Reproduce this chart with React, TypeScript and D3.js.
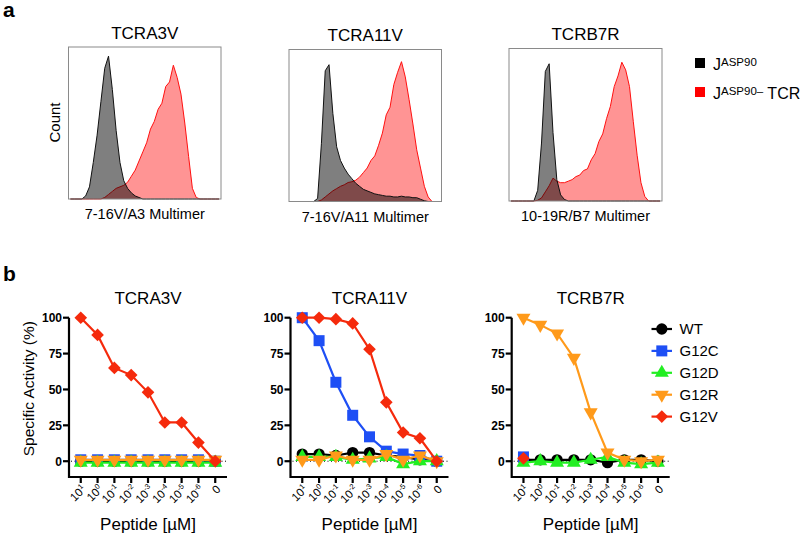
import React from 'react';
import * as d3 from 'd3';

const FONT = 'Liberation Sans, Arial, Helvetica, sans-serif';

// ---------- Panel a: flow histograms (40 channel bins, normalised counts) ----------
const histTitles = ['TCRA3V', 'TCRA11V', 'TCRB7R'];
const histXLabels = ['7-16V/A3 Multimer', '7-16V/A11 Multimer', '10-19R/B7 Multimer'];

const grayTCRA3V = [0, 0, 0, 0, 0.02, 0.08, 0.24, 0.42, 0.64, 0.86, 0.94, 0.72, 0.45, 0.24, 0.12, 0.07, 0.04, 0.02, 0.01, 0,
  0, 0, 0, 0, 0, 0, 0, 0, 0, 0, 0, 0, 0, 0, 0, 0, 0, 0, 0, 0];
const redTCRA3V = [0, 0, 0, 0, 0, 0, 0, 0, 0, 0.01, 0.03, 0.05, 0.07, 0.08, 0.09, 0.11, 0.15, 0.19, 0.25, 0.31,
  0.37, 0.46, 0.51, 0.59, 0.63, 0.74, 0.77, 0.88, 0.8, 0.69, 0.5, 0.28, 0.07, 0.01, 0, 0, 0, 0, 0, 0];

const grayTCRA11V = [0, 0, 0, 0, 0, 0, 0, 0.02, 0.38, 0.86, 0.9, 0.58, 0.36, 0.27, 0.22, 0.18, 0.15, 0.12, 0.1, 0.08,
  0.07, 0.06, 0.05, 0.045, 0.04, 0.035, 0.035, 0.03, 0.03, 0.035, 0.03, 0.03, 0.025, 0.025, 0.015, 0.005, 0, 0, 0, 0];
const redTCRA11V = [0, 0, 0, 0, 0, 0, 0, 0, 0.01, 0.03, 0.05, 0.07, 0.085, 0.1, 0.11, 0.125, 0.13, 0.14, 0.16, 0.19,
  0.22, 0.27, 0.3, 0.37, 0.45, 0.57, 0.62, 0.77, 0.85, 0.92, 0.82, 0.67, 0.51, 0.34, 0.22, 0.1, 0.03, 0, 0, 0];

const grayTCRB7R = [0, 0, 0, 0, 0, 0, 0, 0.07, 0.38, 0.85, 0.9, 0.45, 0.14, 0.04, 0.01, 0, 0, 0, 0, 0,
  0, 0, 0, 0, 0, 0, 0, 0, 0, 0, 0, 0, 0, 0, 0, 0, 0, 0, 0, 0];
const redTCRB7R = [0, 0, 0, 0, 0, 0, 0, 0.005, 0.02, 0.06, 0.1, 0.15, 0.13, 0.12, 0.12, 0.13, 0.14, 0.16, 0.17, 0.2,
  0.21, 0.27, 0.31, 0.39, 0.44, 0.54, 0.62, 0.75, 0.82, 0.91, 0.86, 0.75, 0.52, 0.3, 0.12, 0.03, 0, 0, 0, 0];

const grayHists = [grayTCRA3V, grayTCRA11V, grayTCRB7R];
const redHists = [redTCRA3V, redTCRA11V, redTCRB7R];

// ---------- Panel b: dose response ----------
const doseTitles = ['TCRA3V', 'TCRA11V', 'TCRB7R'];
const tickBase = ['10', '10', '10', '10', '10', '10', '10', '10', '0'];
const tickSup = ['1', '0', '-1', '-2', '-3', '-4', '-5', '-6', ''];
const yTicks = [0, 25, 50, 75, 100];
const seriesNames = ['WT', 'G12C', 'G12D', 'G12R', 'G12V'];
const seriesColors = ['#000000', '#1E4FF5', '#22EE22', '#FF9A1A', '#F52A0C'];
const seriesShapes = ['circle', 'square', 'triUp', 'triDown', 'diamond'];

const a3v_WT = [0, 0, 0, 0, 0, 0, 0, 0, 0];
const a3v_G12C = [1, 1, 1, 1, 1, 1, 1, 1, 0];
const a3v_G12D = [-1, -1, -1, -1, -1, -1, -1, -1, -1];
const a3v_G12R = [1, 1, 1, 1, 1, 1, 1, 1, 1];
const a3v_G12V = [100, 88, 65, 60, 48, 27, 27, 13, 0];

const a11v_WT = [5, 5, 4, 6, 6, 4, 3, 1, 0];
const a11v_G12C = [100, 84, 55, 32, 17, 7, 5, 4, 0];
const a11v_G12D = [3, 3, 3, 1, 2, 3, -2, 0, 0];
const a11v_G12R = [1, 1, 4, 1, 1, 5, 1, 4, 0];
const a11v_G12V = [100, 100, 99, 96, 78, 41, 20, 16, 0];

const b7r_WT = [1, 1, 1, 1, 1, -1, 1, 1, 0];
const b7r_G12C = [3, null, null, null, null, null, null, null, null];
const b7r_G12D = [-1, 0, -1, -1, 1, 3, -1, -2, -1];
const b7r_G12R = [100, 95, 89, 72, 34, 6, 1, 0, 1];
const b7r_G12V = [2, null, null, null, null, null, null, null, null];

const doseData = [
  [a3v_WT, a3v_G12C, a3v_G12D, a3v_G12R, a3v_G12V],
  [a11v_WT, a11v_G12C, a11v_G12D, a11v_G12R, a11v_G12V],
  [b7r_WT, b7r_G12C, b7r_G12D, b7r_G12R, b7r_G12V],
];

function Marker({ shape, x, y, color }: { shape: string; x: number; y: number; color: string }) {
  let d = '';
  let rot = 0;
  if (shape === 'circle') d = d3.symbol(d3.symbolCircle, 100)() as string;
  else if (shape === 'square') d = d3.symbol(d3.symbolSquare, 121)() as string;
  else if (shape === 'triUp') d = d3.symbol(d3.symbolTriangle, 85)() as string;
  else if (shape === 'triDown') { d = d3.symbol(d3.symbolTriangle, 85)() as string; rot = 180; }
  else { d = d3.symbol(d3.symbolSquare, 80)() as string; rot = 45; }
  return <path d={d} transform={`translate(${x},${y}) rotate(${rot})`} fill={color} />;
}

function Hist({ idx, box }: { idx: number; box: { x: number; y: number; w: number; h: number } }) {
  const gray = grayHists[idx];
  const red = redHists[idx];
  const x = d3.scaleLinear().domain([0, gray.length]).range([box.x, box.x + box.w]);
  const y = d3.scaleLinear().domain([0, 1]).range([box.y + box.h, box.y]);
  const area = d3.area<number>().x((_, i) => x(i + 0.5)).y0(y(0)).y1((d) => y(d));
  const line = d3.line<number>().x((_, i) => x(i + 0.5)).y((d) => y(d));
  const cx = box.x + box.w / 2;
  return (
    <g>
      <text x={cx} y={box.y - 8.5} textAnchor="middle" fontSize={17} fontFamily={FONT}>{histTitles[idx]}</text>
      <path d={area(red) as string} fill="rgba(255,0,0,0.42)" />
      <path d={line(red) as string} fill="none" stroke="#ff1010" strokeWidth={1} />
      <path d={area(gray) as string} fill="rgba(0,0,0,0.5)" />
      <path d={line(gray) as string} fill="none" stroke="#111" strokeWidth={1} />
      <rect x={box.x} y={box.y} width={box.w} height={box.h} fill="none" stroke="#8a8a8a" strokeWidth={1} />
      <text x={cx} y={box.y + box.h + 20} textAnchor="middle" fontSize={14.5} fontFamily={FONT}>{histXLabels[idx]}</text>
    </g>
  );
}

function DoseChart({ idx, left }: { idx: number; left: number }) {
  const width = 158;
  const top = 317.7;
  const bottom = 477;
  const x = d3.scalePoint<number>().domain(d3.range(tickBase.length)).range([left, left + width]).padding(0.7);
  const y = d3.scaleLinear().domain([-11, 100]).range([bottom, top]);
  const line = d3.line<number | null>()
    .defined((d) => d != null)
    .x((_, i) => x(i) as number)
    .y((d) => y(d as number));
  const data = doseData[idx];
  const cx = left + width / 2;
  return (
    <g fontFamily={FONT}>
      <text x={cx} y={304} textAnchor="middle" fontSize={17}>{doseTitles[idx]}</text>
      <line x1={left + 2} x2={left + width} y1={y(0)} y2={y(0)} stroke="#000" strokeWidth={1} strokeDasharray="1,2.5" />
      <path d={`M${left},${y(100)}V${bottom}H${left + width}`} fill="none" stroke="#000" strokeWidth={2.2} />
      {yTicks.map((t) => (
        <g key={t}>
          <line x1={left - 6} x2={left} y1={y(t)} y2={y(t)} stroke="#000" strokeWidth={2.2} />
          <text x={left - 7} y={y(t)} dy="0.36em" textAnchor="end" fontSize={12} fontWeight="bold">{t}</text>
        </g>
      ))}
      {tickBase.map((b, i) => {
        const tx = x(i) as number;
        return (
          <g key={i}>
            <line x1={tx} x2={tx} y1={bottom} y2={bottom + 6} stroke="#000" strokeWidth={2.2} />
            <text transform={`translate(${tx + 6},${bottom + 13}) rotate(-45)`} textAnchor="end" fontSize={11.5}>
              {b}
              {tickSup[i] && <tspan fontSize={7.5} dy={-4.5}>{tickSup[i]}</tspan>}
            </text>
          </g>
        );
      })}
      {data.map((vals, s) => (
        <g key={s}>
          <path d={line(vals) as string} fill="none" stroke={seriesColors[s]} strokeWidth={2.2} />
          {vals.map((v, i) => v == null ? null : (
            <Marker key={i} shape={seriesShapes[s]} x={x(i) as number} y={y(v)} color={seriesColors[s]} />
          ))}
        </g>
      ))}
      <text x={cx} y={530} textAnchor="middle" fontSize={17}>Peptide [µM]</text>
    </g>
  );
}

export default function App() {
  const boxes = [
    { x: 68.5, y: 47, w: 152.5, h: 152 },
    { x: 289, y: 49.5, w: 152.5, h: 152 },
    { x: 509, y: 48.5, w: 153, h: 152.5 },
  ];
  const doseLefts = [69, 290.5, 511.7];
  const legendY0 = 329;
  const legendStep = 21.9;
  return (
    <svg width={800} height={533} style={{ position: 'absolute', left: 0, top: 0, background: '#fff' }} fontFamily={FONT}>
      <rect x={0} y={0} width={800} height={533} fill="#fff" />
      <text x={3} y={17} fontSize={21} fontWeight="bold">a</text>
      <text x={3} y={280.5} fontSize={21} fontWeight="bold">b</text>

      {boxes.map((b, i) => <Hist key={i} idx={i} box={b} />)}
      <text transform="translate(59.5,122.5) rotate(-90)" textAnchor="middle" fontSize={15}>Count</text>

      <rect x={695} y={58} width={10} height={10} fill="#000" />
      <text x={713} y={70} fontSize={16}>J<tspan fontSize={11.5} dy={-4}>ASP90</tspan></text>
      <rect x={695} y={87} width={10} height={10} fill="#ff0000" />
      <text x={713} y={98.5} fontSize={16}>J<tspan fontSize={11.5} dy={-4}>ASP90–</tspan><tspan dy={4}> TCR</tspan></text>

      {doseLefts.map((l, i) => <DoseChart key={i} idx={i} left={l} />)}
      <text transform="translate(34,388.7) rotate(-90)" textAnchor="middle" fontSize={15.5}>Specific Activity (%)</text>

      {seriesNames.map((n, s) => {
        const ly = legendY0 + s * legendStep;
        return (
          <g key={n}>
            <line x1={651.5} x2={672} y1={ly} y2={ly} stroke={seriesColors[s]} strokeWidth={2.2} />
            <Marker shape={seriesShapes[s]} x={661.8} y={ly} color={seriesColors[s]} />
            <text x={679.5} y={ly} dy="0.36em" fontSize={15}>{n}</text>
          </g>
        );
      })}
    </svg>
  );
}
